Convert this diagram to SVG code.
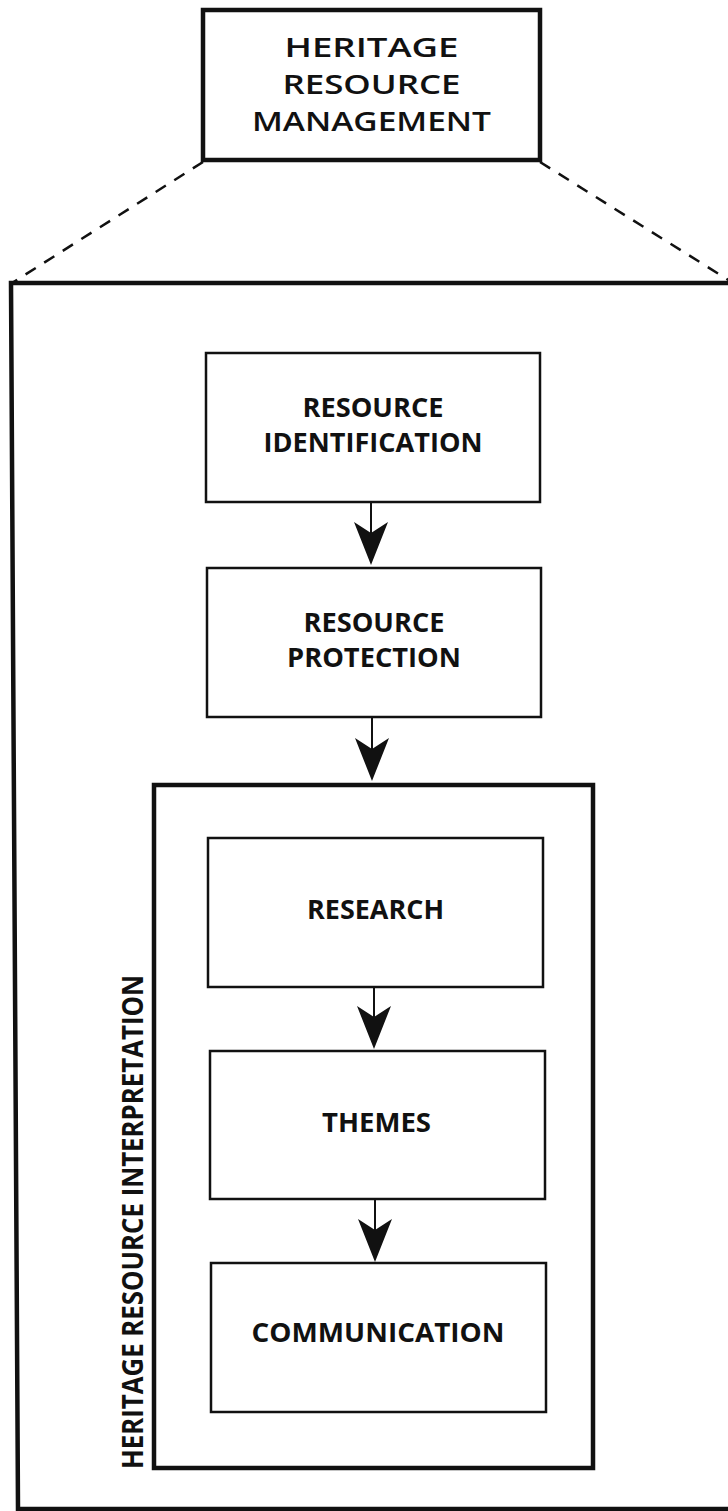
<svg xmlns="http://www.w3.org/2000/svg" width="728" height="1511" viewBox="0 0 728 1511">
<style>
.lbl{font-family:"Open Sans","Liberation Sans",sans-serif;font-size:26px;font-weight:700;fill:#111;text-anchor:middle}
.top{font-family:"Open Sans","Liberation Sans",sans-serif;font-size:27px;font-weight:600;fill:#111;text-anchor:middle}
.side{font-family:"Open Sans","Liberation Sans",sans-serif;font-size:28px;font-weight:700;fill:#111}
.box{fill:#fff;stroke:#111;stroke-width:2.5}
.thick{fill:none;stroke:#111;stroke-width:4.5}
.conn{stroke:#111;stroke-width:2;fill:none}
.dash{stroke:#111;stroke-width:2.5;fill:none;stroke-dasharray:12 10}
</style>
<defs>
<path id="ah" d="M0,0 L-17,-43 L0,-32 L17,-43 Z" fill="#111"/>
</defs>
<rect width="728" height="1511" fill="#fff"/>
<g id="connectors">
<line class="dash" x1="203" y1="162" x2="12" y2="283"/>
<line class="dash" x1="540" y1="162" x2="730" y2="281"/>
<line class="conn" x1="371" y1="502" x2="371" y2="540"/>
<use href="#ah" x="371" y="565"/>
<line class="conn" x1="372" y1="717" x2="372" y2="755"/>
<use href="#ah" x="372" y="781"/>
<line class="conn" x1="374" y1="987" x2="374" y2="1025"/>
<use href="#ah" x="374" y="1049"/>
<line class="conn" x1="375" y1="1199" x2="375" y2="1238"/>
<use href="#ah" x="375" y="1262"/>
</g>
<g id="hrm">
<rect class="thick" x="203" y="10" width="337" height="150" fill="#fff"/>
<text class="top" x="371.5" y="57" textLength="174" lengthAdjust="spacingAndGlyphs">HERITAGE</text>
<text class="top" x="371.5" y="94" textLength="178" lengthAdjust="spacingAndGlyphs">RESOURCE</text>
<text class="top" x="371.5" y="131" textLength="239" lengthAdjust="spacingAndGlyphs">MANAGEMENT</text>
</g>
<g id="hrm-frame">
<path class="thick" d="M740,283 L11,283 L18,1509 L740,1509"/>
</g>
<g id="resource-identification">
<rect class="box" x="206" y="353" width="334" height="149"/>
<text class="lbl" x="373" y="417" textLength="141" lengthAdjust="spacingAndGlyphs">RESOURCE</text>
<text class="lbl" x="373" y="452" textLength="219" lengthAdjust="spacingAndGlyphs">IDENTIFICATION</text>
</g>
<g id="resource-protection">
<rect class="box" x="207" y="568" width="334" height="149"/>
<text class="lbl" x="374" y="632" textLength="141" lengthAdjust="spacingAndGlyphs">RESOURCE</text>
<text class="lbl" x="374" y="667" textLength="174" lengthAdjust="spacingAndGlyphs">PROTECTION</text>
</g>
<g id="heritage-resource-interpretation">
<rect class="thick" x="154" y="785" width="439" height="683"/>
<text class="side" transform="translate(143,1469) rotate(-90)" x="0" y="0" textLength="494" lengthAdjust="spacingAndGlyphs">HERITAGE RESOURCE INTERPRETATION</text>
</g>
<g id="research">
<rect class="box" x="208" y="838" width="335" height="149"/>
<text class="lbl" x="375.5" y="919" textLength="137" lengthAdjust="spacingAndGlyphs">RESEARCH</text>
</g>
<g id="themes">
<rect class="box" x="210" y="1051" width="335" height="148"/>
<text class="lbl" x="376.5" y="1132" textLength="109" lengthAdjust="spacingAndGlyphs">THEMES</text>
</g>
<g id="communication">
<rect class="box" x="211" y="1263" width="335" height="149"/>
<text class="lbl" x="378" y="1342" textLength="253" lengthAdjust="spacingAndGlyphs">COMMUNICATION</text>
</g>
</svg>
